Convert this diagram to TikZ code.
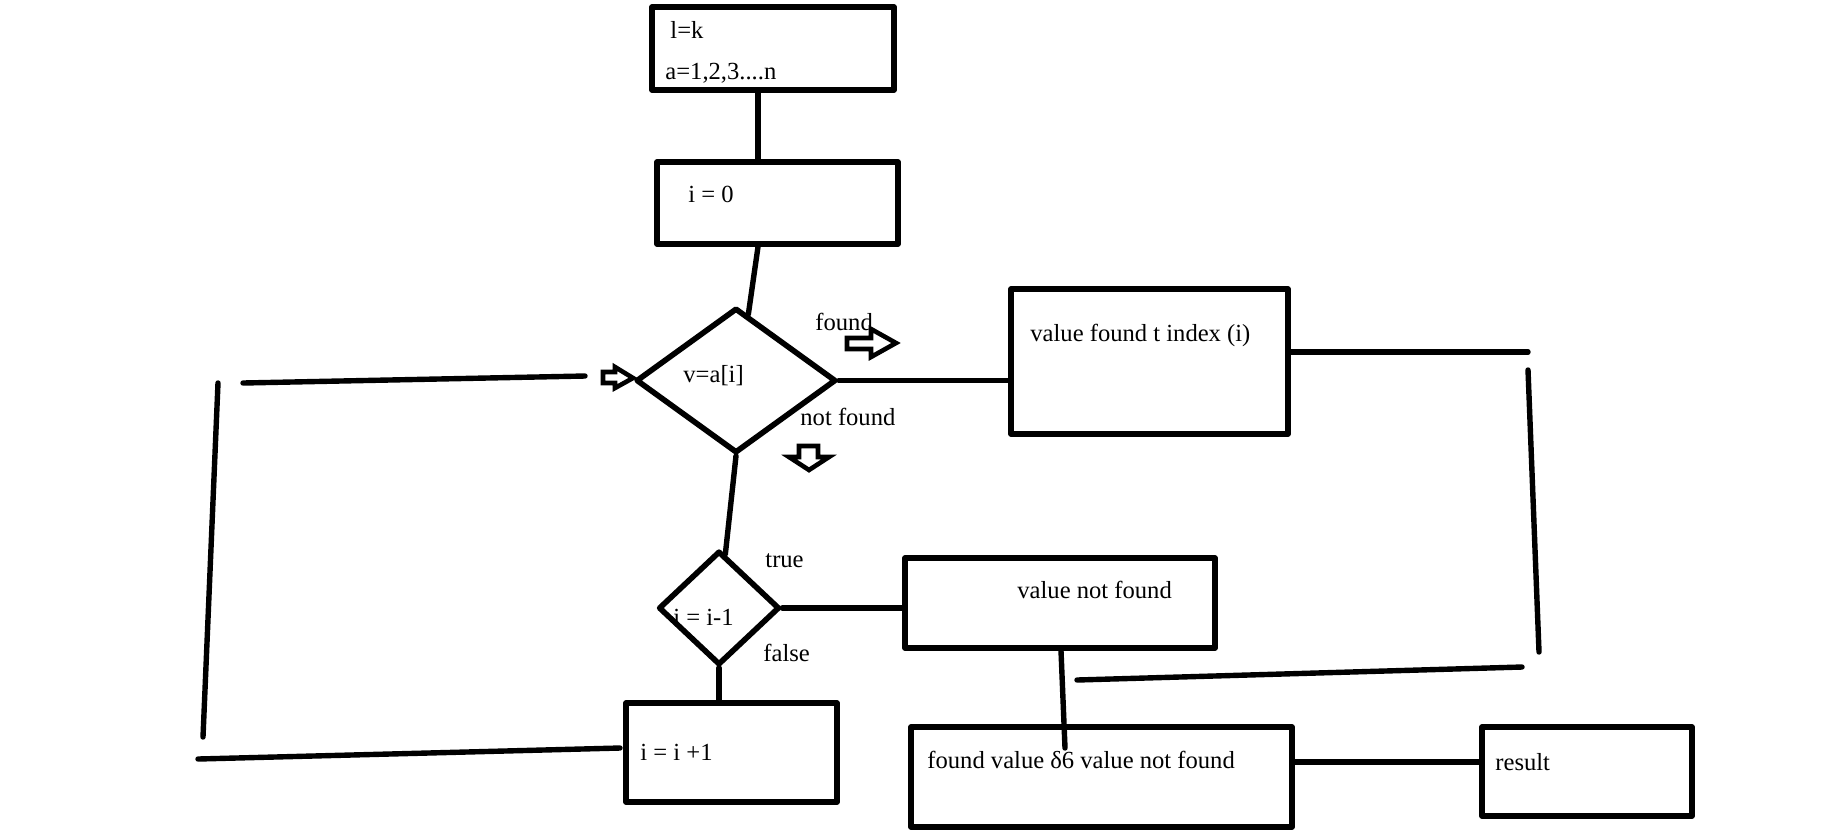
\documentclass[tikz,border=0pt]{standalone}
\usepackage{fontspec}
\setmainfont{Liberation Serif}
\usetikzlibrary{shapes.geometric,calc}
\begin{document}
\begin{tikzpicture}[x=0.5pt,y=-0.5pt,
  line cap=round, line join=round,
  box/.style={draw, rectangle, inner sep=0pt, line width=2.8pt},
  dia/.style={draw, diamond, inner sep=0pt, line width=2.8pt},
  txt/.style={anchor=base west, inner sep=0pt, font=\fontsize{12.3}{14}\selectfont},
  conn/.style={line width=2.7pt},
  harrow/.style={line width=2.3pt, line join=miter}]
\useasboundingbox (0,0) rectangle (1829,832);

% boxes
\node[box, minimum width=121pt, minimum height=41.5pt] (b1) at (773,48.5) {};
\node[box, minimum width=120.5pt, minimum height=41pt] (b2) at (777.5,203) {};
\node[dia, minimum width=100pt, minimum height=72.5pt] (d1) at (736,380.5) {};
\node[box, minimum width=138.5pt, minimum height=72.5pt] (vf) at (1149.5,361.5) {};
\node[dia, minimum width=60.5pt, minimum height=57pt] (d2) at (719,608) {};
\node[box, minimum width=155pt, minimum height=45pt] (vnf) at (1060,603) {};
\node[box, minimum width=105.5pt, minimum height=49.5pt] (inc) at (731.5,752.5) {};
\node[box, minimum width=190.5pt, minimum height=50pt] (fv) at (1101.5,777) {};
\node[box, minimum width=105pt, minimum height=44.5pt] (res) at (1587,771.5) {};

% texts
\node[txt] (t1) at (670,38) {l=k};
\node[txt] (t2) at (665,79) {a=1,2,3....n};
\node[txt] (t3) at (688,202) {i = 0};
\node[txt] (t4) at (683,382) {v=a[i]};
\node[txt] (t5) at (815,330) {found};
\node[txt] (t6) at (800,425) {not found};
\node[txt] (t7) at (1030,341) {value found t index (i)};
\node[txt] (t8) at (765,567) {true};
\node[txt] (t9) at (763,661) {false};
\node[txt] (t10) at (673,625) {i = i-1};
\node[txt] (t11) at (640,760) {i = i +1};
\node[txt] (t12) at (1017,598) {value not found};
\node[txt] (t13) at (927,768) {found value δ6 value not found};
\node[txt] (t14) at (1495,770) {result};

% helper coordinates
\coordinate (x758) at (758,0);
\coordinate (r1) at (1528,352);
\coordinate (r2) at (1528,370);
\coordinate (r3) at (1539,652);
\coordinate (r4) at (1522,667);
\coordinate (r5) at (1077,680);
\coordinate (fvtop) at (1061,0);
\coordinate (fvin) at (1065,748);
\coordinate (fr) at (0,762);
\coordinate (l0) at (620,748);
\coordinate (l1) at (198,759);
\coordinate (l2) at (203,737);
\coordinate (l3) at (218,383);
\coordinate (l4) at (243,383);
\coordinate (l5) at (585,376);

% connectors
\draw[conn] (b1.south -| x758) -- (b2.north -| x758);
\draw[conn] (b2.south -| x758) -- ($(d1.north)!0.12!(d1.east)$);
\draw[conn] (d1.east) -- (d1.east -| vf.west);
\draw[conn] (vf.east |- r1) -- (r1);
\draw[conn] (r2) -- (r3);
\draw[conn] (r4) -- (r5);
\draw[conn] (d1.south) -- ($(d2.north)!0.1!(d2.east)$);
\draw[conn] (d2.east) -- (d2.east -| vnf.west);
\draw[conn] (d2.south) -- (d2.south |- inc.north);
\draw[conn] (vnf.south -| fvtop) -- (fvin);
\draw[conn] (fv.east |- fr) -- (res.west |- fr);
\draw[conn] (l0) -- (l1);
\draw[conn] (l2) -- (l3);
\draw[conn] (l4) -- (l5);

% hollow block arrows
\draw[harrow] (847,338) -- (871,338) -- (871,329) -- (896,343) -- (871,357) -- (871,349) -- (847,349) -- cycle;
\draw[harrow] (603,372) -- (615,372) -- (615,367) -- (633,378) -- (615,388) -- (615,383) -- (603,383) -- cycle;
\draw[harrow] (799,446) -- (818,446) -- (818,457) -- (829,457) -- (809,470) -- (789,457) -- (799,457) -- cycle;
\end{tikzpicture}
\end{document}
